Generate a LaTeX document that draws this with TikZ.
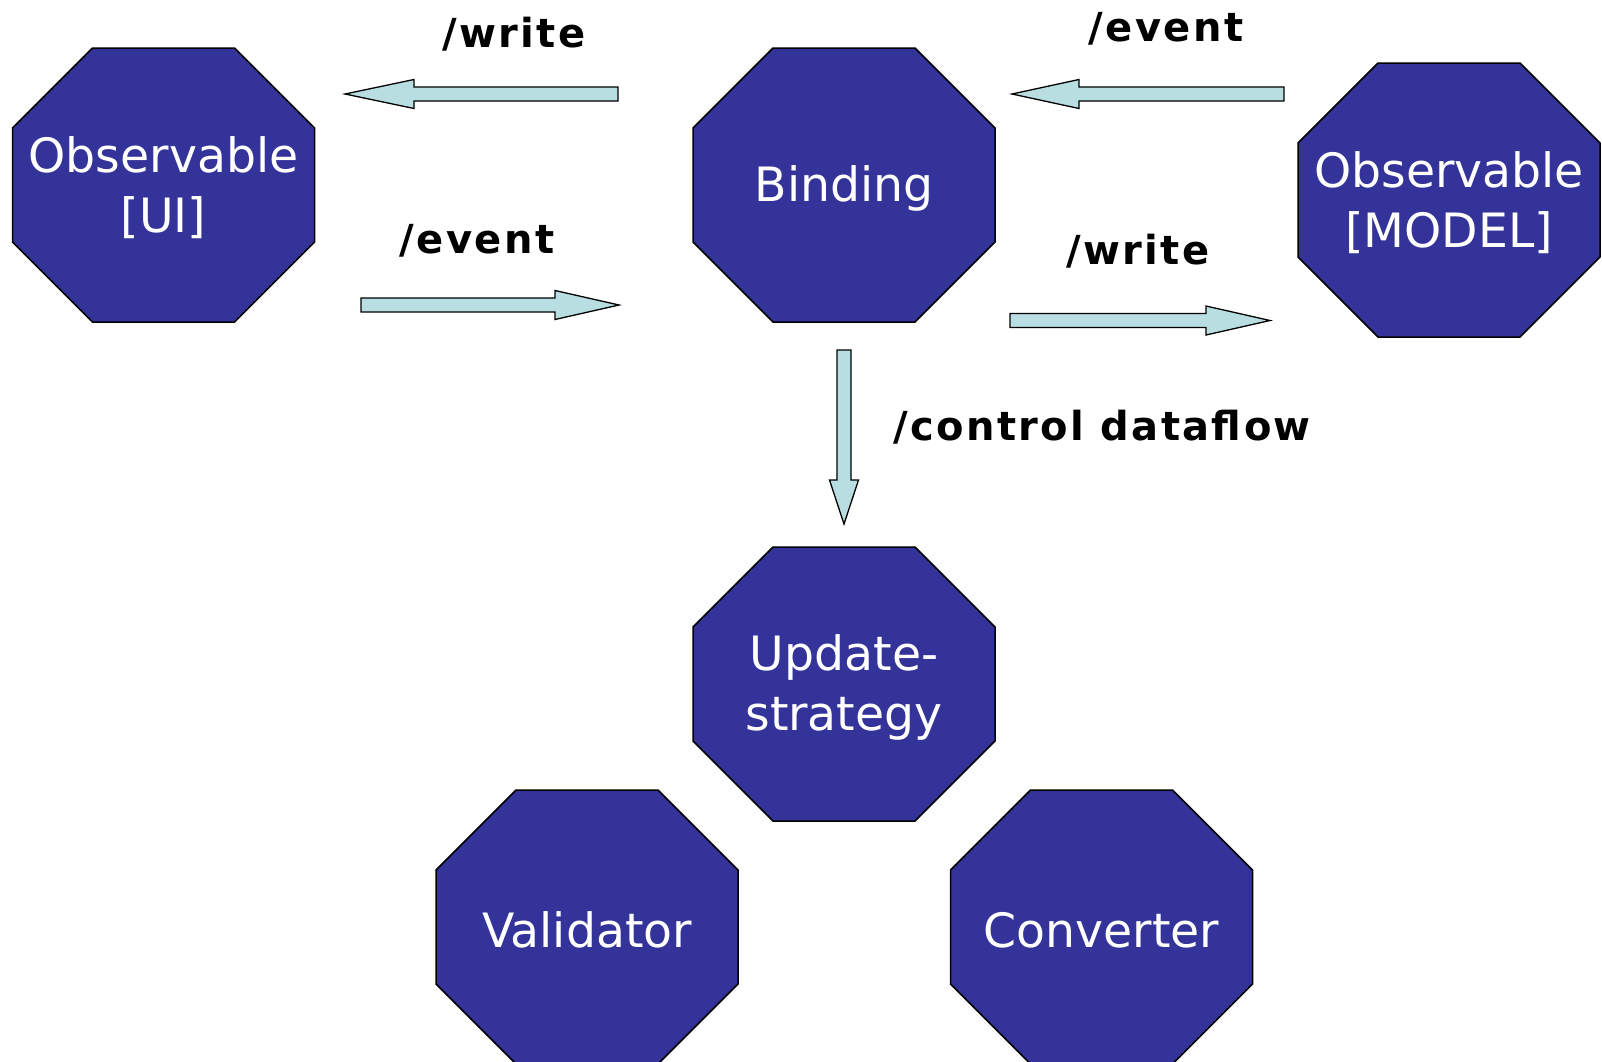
\documentclass[tikz,border=0pt]{standalone}
\usepackage{fontspec}
\newfontfamily\octfont{DejaVu Sans}
\newfontfamily\labfont[LetterSpace=6]{DejaVu Sans}
\definecolor{octblue}{RGB}{51,51,153}
\definecolor{arrowcyan}{RGB}{184,222,226}
\newcommand\blockarrow[4]{% #1 tail coordinate, #2 angle, #3 length, #4 head length
  \draw[barrow, shift={(#1)}, rotate=#2] (0,-7) -- ({#3-#4},-7) -- ({#3-#4},-14.5) -- (#3,0) -- ({#3-#4},14.5) -- ({#3-#4},7) -- (0,7) -- cycle;}
\newcommand\octagonnode[4]{% name, x, y, text
  \draw[octshape] (#2-71,#3+137) -- (#2+71,#3+137) -- (#2+151,#3+57) -- (#2+151,#3-57)
     -- (#2+71,#3-137) -- (#2-71,#3-137) -- (#2-151,#3-57) -- (#2-151,#3+57) -- cycle;
  \node[octtext] (#1) at (#2,#3-3) {#4};}
\begin{document}
\begin{tikzpicture}[x=1pt,y=1pt,
  octshape/.style={fill=octblue, draw=black, line width=1.5pt, line join=miter},
  octtext/.style={inner sep=0pt, text=white, align=center, font=\octfont\fontsize{47.3}{60}\selectfont},
  lab/.style={font=\labfont\bfseries\fontsize{40}{45}\selectfont, anchor=base, inner sep=0pt},
  barrow/.style={fill=arrowcyan, draw=black, line width=1.3pt, line join=miter}]
\fill[white] (0,0) rectangle (1602,-1061);
\useasboundingbox (0,0) rectangle (1602,-1061);
% octagons
\octagonnode{ui}{163.5}{-185}{Observable\\{[UI]}}
\octagonnode{binding}{844}{-185}{Binding}
\octagonnode{model}{1449}{-200}{Observable\\{[MODEL]}}
\octagonnode{update}{844}{-684}{Update-\\strategy}
\octagonnode{validator}{587}{-927}{Validator}
\octagonnode{converter}{1101.5}{-927}{Converter}
% arrows
\coordinate (a1) at (618,-94);
\coordinate (a2) at (361,-305);
\coordinate (a3) at (1284,-94);
\coordinate (a4) at (1010,-320.5);
\coordinate (a5) at (844,-350);
\blockarrow{a1}{180}{273}{69}
\blockarrow{a2}{0}{258}{64}
\blockarrow{a3}{180}{272}{67}
\blockarrow{a4}{0}{260}{64}
\blockarrow{a5}{-90}{174}{44}
% labels
\node[lab] (l1) at (514,-47) {/write};
\node[lab] (l2) at (1166,-41) {/event};
\node[lab] (l3) at (477,-253) {/event};
\node[lab] (l4) at (1138,-264) {/write};
\node[lab] (l5) at (1102,-440) {/control dataflow};
\end{tikzpicture}
\end{document}
